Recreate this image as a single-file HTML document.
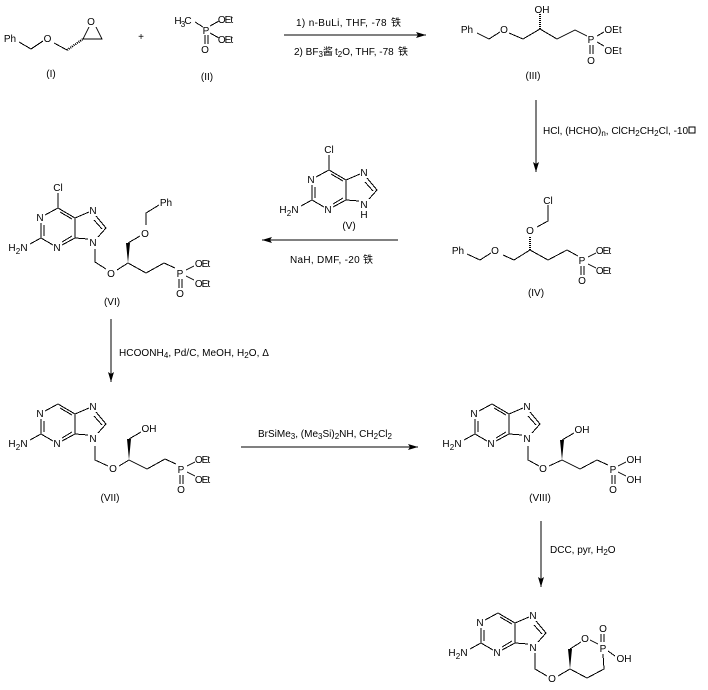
<!DOCTYPE html>
<html>
<head>
<meta charset="utf-8">
<style>
html,body{margin:0;padding:0;background:#fff;width:708px;height:690px;overflow:hidden}
svg{display:block}
text{font-family:"Liberation Sans","Noto Sans CJK SC",sans-serif;font-size:10px;fill:#000;text-anchor:middle}
text.l{text-anchor:start}
text.t{letter-spacing:-1px}
path{fill:none;stroke:#000;stroke-width:1;shape-rendering:crispEdges}
polygon{fill:#000;stroke:none}
path.h{stroke-dasharray:1 1;stroke-width:3}
</style>
</head>
<body>
<svg width="708" height="690" viewBox="0 0 708 690" xmlns="http://www.w3.org/2000/svg">

<!-- I -->
<path d="M19 42L31 49L43 41M54 43L67 50M83 39H102L96 27M83 39L89 27"/>
<path class="h" d="M67 50L83 39" style="stroke-width:2"/>
<text x="10" y="42">Ph</text><text x="47.5" y="42">O</text><text x="91" y="25">O</text><text x="51" y="77">(I)</text>
<text x="141" y="40">+</text>

<!-- II -->
<path d="M195 22L203 27M210 26L219 21M210 33L219 38M205 35V44M208 35V44"/>
<text x="178" y="24">H</text><text x="183" y="27" style="font-size:8px">3</text><text x="188" y="24">C</text>
<text x="206" y="34">P</text><text class="t" x="225" y="23">OEt</text><text class="t" x="225" y="43">OEt</text><text x="205" y="53">O</text>
<text x="207" y="80">(II)</text>

<!-- Arrow 1 -->
<path d="M284 35H426"/><polygon points="426,35 416,32 418,35 416,38"/>
<text class="l" x="296" y="26" style="letter-spacing:.35px">1) n-BuLi, THF, -78</text><text x="396" y="26">铁</text>
<text class="l" x="294" y="55">2) BF<tspan dy="2" font-size="8">3</tspan><tspan dy="-2">酱</tspan></text>
<text class="l" x="335" y="55">t<tspan dy="2" font-size="8">2</tspan><tspan dy="-2">O, THF, -78 </tspan></text><text x="403" y="55">铁</text>

<!-- III -->
<path d="M477 33L489 39L500 32M509 33L523 39L540 29L557 39L575 30L587 36M597 36L604 32M597 42L604 46M590 45V54M593 45V54"/>
<path class="h" d="M540 29V14" style="stroke-width:2"/>
<text x="467" y="33">Ph</text><text x="504" y="33">O</text><text x="542" y="13">OH</text><text x="591" y="43">P</text>
<text x="613" y="33">OEt</text><text x="613" y="54">OEt</text><text x="591" y="64">O</text><text x="533" y="79">(III)</text>

<!-- Arrow 2 -->
<path d="M536 100V172"/><polygon points="536,172 533,162 536,164 539,162"/>
<text class="l" x="543" y="134">HCl, (HCHO)<tspan dy="2" font-size="8">n</tspan><tspan dy="-2">, ClCH</tspan><tspan dy="2" font-size="8">2</tspan><tspan dy="-2">CH</tspan><tspan dy="2" font-size="8">2</tspan><tspan dy="-2">Cl, -10</tspan></text>
<rect x="689" y="127" width="6" height="6" fill="none" stroke="#000"/>

<!-- IV -->
<path d="M548 205V221L537 227M467 254L480 260L491 253M503 255L514 260L530 250L548 260L567 250L578 256M588 257L596 253M588 264L596 268M581 266V275M584 266V275"/>
<path class="h" d="M530 250V237" style="stroke-width:2"/>
<text x="548" y="204">Cl</text><text x="530" y="234">O</text><text x="458" y="254">Ph</text><text x="495" y="254">O</text>
<text x="582" y="264">P</text><text class="t" x="603" y="254">OEt</text><text class="t" x="603" y="274">OEt</text><text x="582" y="284">O</text>
<text x="536" y="296">(IV)</text>

<!-- V -->
<g>
<path d="M329 155V170M329 170L316 177M329 170L346 180M331 174L343 181M346 180V200L333 207M343 198L333 204M324 207L312 200V185M315 198V187M312 200L301 206M346 180L360 174M367 178L377 190M365 182L373 191M377 190L369 199M359 201L346 200"/>
<text x="329" y="153">Cl</text><text x="311" y="183">N</text><text x="328" y="213">N</text><text x="364" y="176">N</text><text x="364" y="208">N</text><text x="364" y="218">H</text>
<text x="283" y="213">H</text><text x="289" y="216" style="font-size:8px">2</text><text x="295" y="213">N</text>
</g>
<text x="349" y="229">(V)</text>

<!-- Arrow 3 -->
<path d="M262 240H398"/><polygon points="262,240 272,237 270,240 272,243"/>
<text class="l" x="290" y="263" style="letter-spacing:.3px">NaH, DMF, -20</text><text x="368" y="263">铁</text>

<!-- VI -->
<g transform="translate(-271 38)">
<path d="M329 155V170M329 170L316 177M329 170L346 180M331 174L343 181M346 180V200L333 207M343 198L333 204M324 207L312 200V185M315 198V187M312 200L301 206M346 180L360 174M367 178L377 190M365 182L373 191M377 190L369 199M359 201L346 200"/>
<text x="329" y="153">Cl</text><text x="311" y="183">N</text><text x="328" y="213">N</text><text x="364" y="176">N</text><text x="364" y="208">N</text>
<text x="283" y="213">H</text><text x="289" y="216" style="font-size:8px">2</text><text x="295" y="213">N</text>
</g>
<path d="M95 249V262L106 269M117 270L128 263L146 273L164 263L175 268M128 243L140 236M146 225V213L159 205M186 270L194 266M186 276L194 280M179 279V288M182 279V288"/>
<polygon points="128,263 126,243 130,243"/>
<text x="111" y="277">O</text><text x="145" y="237">O</text><text x="166" y="206">Ph</text><text x="180" y="277">P</text>
<text class="t" x="202" y="267">OEt</text><text class="t" x="202" y="287">OEt</text><text x="180" y="297">O</text>
<text x="112" y="305">(VI)</text>

<!-- Arrow 4 -->
<path d="M111 319V382"/><polygon points="111,382 108,372 111,374 114,372"/>
<text class="l" x="119" y="356" style="letter-spacing:.06px">HCOONH<tspan dy="2" font-size="8">4</tspan><tspan dy="-2">, Pd/C, MeOH, H</tspan><tspan dy="2" font-size="8">2</tspan><tspan dy="-2">O, Δ</tspan></text>

<!-- VII -->
<g transform="translate(-271 234)">
<path d="M329 170L316 177M329 170L346 180M331 174L343 181M346 180V200L333 207M343 198L333 204M324 207L312 200V185M315 198V187M312 200L301 206M346 180L360 174M367 178L377 190M365 182L373 191M377 190L369 199M359 201L346 200"/>
<text x="311" y="183">N</text><text x="328" y="213">N</text><text x="364" y="176">N</text><text x="364" y="208">N</text>
<text x="283" y="213">H</text><text x="289" y="216" style="font-size:8px">2</text><text x="295" y="213">N</text>
</g>
<path d="M95 446V460L108 466M119 466L129 460L147 469L165 459L176 464M129 439L141 432M187 466L195 462M187 472L195 476M180 475V484M183 475V484"/>
<polygon points="129,460 127,439 131,439"/>
<text x="113" y="472">O</text><text x="149" y="432">OH</text><text x="181" y="473">P</text>
<text class="t" x="202" y="463">OEt</text><text class="t" x="202" y="483">OEt</text><text x="181" y="493">O</text>
<text x="110" y="501">(VII)</text>

<!-- Arrow 5 -->
<path d="M241 447H418"/><polygon points="418,447 408,444 410,447 408,450"/>
<text class="l" x="258" y="437">BrSiMe<tspan dy="2" font-size="8">3</tspan><tspan dy="-2">, (Me</tspan><tspan dy="2" font-size="8">3</tspan><tspan dy="-2">Si)</tspan><tspan dy="2" font-size="8">2</tspan><tspan dy="-2">NH, CH</tspan><tspan dy="2" font-size="8">2</tspan><tspan dy="-2">Cl</tspan><tspan dy="2" font-size="8">2</tspan></text>

<!-- VIII -->
<g transform="translate(163 234)">
<path d="M329 170L316 177M329 170L346 180M331 174L343 181M346 180V200L333 207M343 198L333 204M324 207L312 200V185M315 198V187M312 200L301 206M346 180L360 174M367 178L377 190M365 182L373 191M377 190L369 199M359 201L346 200"/>
<text x="311" y="183">N</text><text x="328" y="213">N</text><text x="364" y="176">N</text><text x="364" y="208">N</text>
<text x="283" y="213">H</text><text x="289" y="216" style="font-size:8px">2</text><text x="295" y="213">N</text>
</g>
<path d="M528 446V460L539 466M549 466L562 460L580 469L597 460L608 465M562 440L574 433M618 466L626 462M618 472L626 476M612 475V484M615 475V484"/>
<polygon points="562,460 560,440 564,440"/>
<text x="543" y="472">O</text><text x="582" y="433">OH</text><text x="613" y="473">P</text>
<text x="634" y="463">OH</text><text x="634" y="483">OH</text><text x="613" y="493">O</text>
<text x="540" y="501">(VIII)</text>

<!-- Arrow 6 -->
<path d="M541 521V587"/><polygon points="541,587 538,577 541,579 544,577"/>
<text class="l" x="550" y="553">DCC, pyr, H<tspan dy="2" font-size="8">2</tspan><tspan dy="-2">O</tspan></text>

<!-- IX -->
<g transform="translate(169 443)">
<path d="M329 170L316 177M329 170L346 180M331 174L343 181M346 180V200L333 207M343 198L333 204M324 207L312 200V185M315 198V187M312 200L301 206M346 180L360 174M367 178L377 190M365 182L373 191M377 190L369 199M359 201L346 200"/>
<text x="311" y="183">N</text><text x="328" y="213">N</text><text x="364" y="176">N</text><text x="364" y="208">N</text>
<text x="283" y="213">H</text><text x="289" y="216" style="font-size:8px">2</text><text x="295" y="213">N</text>
</g>
<path d="M535 653V669L547 676M558 676L570 669L587 678L604 669L603 654M570 649L581 642M590 640L598 644M601 634V642M604 634V642M608 651L615 656"/>
<polygon points="570,669 568,649 572,649"/>
<text x="552" y="682">O</text><text x="585" y="642">O</text><text x="603" y="652">P</text><text x="603" y="632">O</text><text x="624" y="662">OH</text>

</svg>
</body>
</html>
